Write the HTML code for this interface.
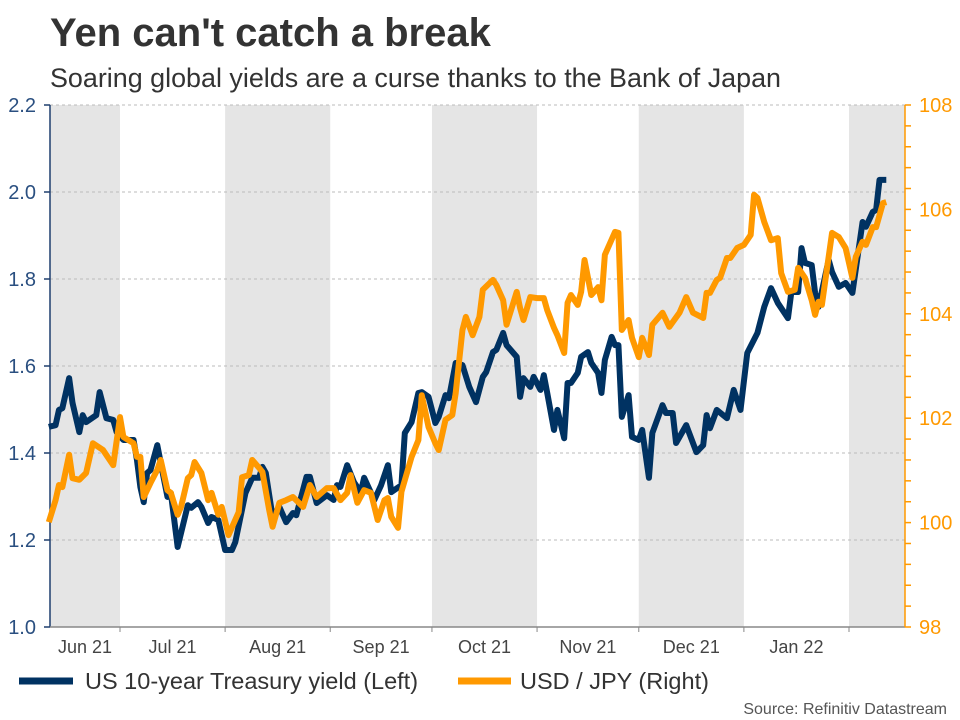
<!DOCTYPE html>
<html><head><meta charset="utf-8">
<style>
body{margin:0;background:#fff;width:960px;height:720px;overflow:hidden;font-family:"Liberation Sans",Arial,sans-serif}
svg{display:block}
</style></head>
<body>
<svg id="chart" width="960" height="720" xmlns="http://www.w3.org/2000/svg">
<text x="50" y="46" font-size="40" font-weight="bold" fill="#333">Yen can't catch a break</text>
<text x="50" y="87" font-size="26.9" fill="#333">Soaring global yields are a curse thanks to the Bank of Japan</text>
<g id="bands"></g>
<g id="grid"></g>
<g id="axes"></g>
<g id="series"></g>
<g>
<line x1="19" y1="681" x2="73" y2="681" stroke="#003262" stroke-width="7"/>
<text x="85" y="689" font-size="23.5" fill="#333">US 10-year Treasury yield (Left)</text>
<line x1="458" y1="681" x2="511" y2="681" stroke="#ff9900" stroke-width="7"/>
<text x="520" y="689" font-size="23.5" fill="#333">USD / JPY (Right)</text>
</g>
<text x="947" y="714" font-size="16" fill="#555" text-anchor="end">Source: Refinitiv Datastream</text>
</svg>
<script>
// days since 1 Jun 2021
const monthLabels=["Jun 21","Jul 21","Aug 21","Sep 21","Oct 21","Nov 21","Dec 21","Jan 22"];
const monthStarts=[0,30,61,92,122,153,183,214,245];
const leftTicks=[1.0,1.2,1.4,1.6,1.8,2.0,2.2];
const rightTicks=[98,100,102,104,106,108];
const usDays=[9,11,12,13,15,16,18,19,20,23,24,26,28,29,31,34,35,36,37,38,39,41,43,44,45,47,48,50,51,53,54,56,57,59,61,63,64,67,69,71,72,73,75,77,79,81,82,85,86,88,91,93,94,95,97,99,101,102,103,105,107,109,110,113,114,116,118,119,121,123,124,126,127,129,131,133,135,137,138,140,141,143,144,147,148,149,151,152,154,155,156,158,159,161,162,163,165,166,168,169,171,172,173,175,176,177,178,180,181,183,184,186,187,190,191,193,194,197,200,202,203,204,206,209,211,213,215,218,220,222,224,227,228,230,231,232,234,235,236,239,240,242,244,246,249,250,252,253,254,256];
const usVals=[1.46,1.464,1.499,1.503,1.572,1.515,1.448,1.487,1.471,1.487,1.54,1.48,1.476,1.448,1.43,1.43,1.384,1.322,1.287,1.354,1.361,1.418,1.338,1.299,1.308,1.184,1.216,1.28,1.274,1.287,1.276,1.239,1.253,1.246,1.177,1.177,1.195,1.308,1.343,1.343,1.368,1.354,1.253,1.276,1.241,1.262,1.257,1.345,1.345,1.285,1.303,1.292,1.326,1.322,1.372,1.333,1.31,1.343,1.326,1.292,1.326,1.372,1.31,1.326,1.446,1.471,1.538,1.54,1.529,1.469,1.483,1.533,1.526,1.607,1.602,1.552,1.517,1.575,1.586,1.632,1.637,1.676,1.648,1.621,1.529,1.572,1.552,1.575,1.545,1.579,1.538,1.453,1.499,1.434,1.561,1.561,1.584,1.621,1.632,1.607,1.584,1.538,1.614,1.667,1.648,1.648,1.483,1.533,1.437,1.43,1.453,1.343,1.446,1.51,1.492,1.492,1.423,1.464,1.402,1.418,1.487,1.457,1.499,1.48,1.545,1.499,1.63,1.676,1.736,1.779,1.745,1.71,1.77,1.77,1.871,1.837,1.832,1.768,1.736,1.844,1.816,1.782,1.791,1.768,1.931,1.92,1.954,1.959,2.028,2.028];
const jpyDays=[9,11,12,13,15,16,18,20,22,25,28,30,31,34,35,36,37,39,41,42,44,45,47,48,50,51,52,54,56,57,59,60,62,65,66,68,69,71,72,74,75,77,79,81,84,86,88,91,93,95,97,98,100,102,104,106,108,109,110,112,113,116,118,119,121,123,124,126,128,129,131,132,134,136,137,140,141,143,144,147,148,149,151,153,155,156,158,159,161,162,163,165,166,167,169,171,172,173,176,177,178,180,181,183,184,186,187,190,192,195,197,199,202,203,204,206,207,209,210,212,214,216,217,218,220,222,224,225,227,229,230,232,234,235,236,237,240,242,244,246,247,249,250,252,253,255,256];
const jpyVals=[100.01,100.43,100.72,100.68,101.3,100.85,100.82,100.95,101.52,101.39,101.1,102.02,101.64,101.52,101.26,101.26,100.49,100.76,101.01,101.2,100.62,100.57,100.15,100.3,100.85,100.91,101.16,100.95,100.43,100.57,100.15,100.3,99.76,100.2,100.87,100.91,101.2,101.05,100.97,100.24,99.92,100.38,100.43,100.49,100.3,100.72,100.49,100.66,100.66,100.43,100.57,100.91,100.38,100.62,100.57,100.05,100.43,100.47,100.11,99.9,100.59,101.26,101.58,102.44,101.83,101.52,101.39,101.97,102.06,102.48,103.69,103.94,103.59,103.94,104.46,104.65,104.55,104.26,103.79,104.42,104.11,103.88,104.32,104.3,104.3,104.07,103.73,103.59,103.25,104.21,104.36,104.17,104.42,105.03,104.36,104.51,104.26,105.13,105.57,105.55,103.69,103.88,103.54,103.17,103.54,103.21,103.79,104.02,103.75,104.02,104.32,104.02,103.92,104.4,104.4,104.65,104.69,105.07,105.07,105.26,105.32,105.51,106.28,106.22,105.76,105.41,105.45,104.78,104.42,104.46,104.88,104.69,104.26,103.98,104.23,104.17,105.55,105.47,105.26,104.69,105.09,105.38,105.32,105.66,105.66,106.12,106.14];

const NS="http://www.w3.org/2000/svg";
const L=50,R=905,T=105,B=627;
const xOf=d=>120+(d-30)*(729/215);
const yL=v=>B-(v-1.0)/1.2*(B-T);
const yR=v=>B-(v-98)/10*(B-T);
function mk(tag,attrs,parent){const e=document.createElementNS(NS,tag);for(const k in attrs)e.setAttribute(k,attrs[k]);parent.appendChild(e);return e;}
const bands=document.getElementById('bands'),grid=document.getElementById('grid'),axes=document.getElementById('axes'),series=document.getElementById('series');

for(let i=0;i<monthStarts.length;i+=2){
  const x0=Math.max(L,xOf(monthStarts[i])),x1=i+1<monthStarts.length?Math.min(R,xOf(monthStarts[i+1])):R;
  const r=mk('rect',{x:x0,y:T,width:x1-x0,height:B-T,fill:'#e5e5e5'},bands);
  
  
}
leftTicks.forEach(v=>{
  if(v>1.0){const g=mk('line',{x1:L,x2:R,y1:yL(v),y2:yL(v),stroke:'#bbb','stroke-dasharray':'3,3','stroke-width':1},grid);
  
  }
  mk('line',{x1:L-6,x2:L,y1:yL(v),y2:yL(v),stroke:'#1f3f6e','stroke-width':1.5},axes);
  const t=mk('text',{x:L-14,y:yL(v)+7,'text-anchor':'end','font-size':20,fill:'#2a4f80'},axes);
  t.textContent=v.toFixed(1);
  
  
});
const la=mk('line',{x1:L,x2:L,y1:T,y2:B,stroke:'#1f3f6e','stroke-width':1.5},axes);


const ba=mk('line',{x1:L,x2:R,y1:B,y2:B,stroke:'#888','stroke-width':1.5},axes);


for(let v=98;v<=108.001;v+=0.4){mk('line',{x1:R,x2:R+6,y1:yR(v),y2:yR(v),stroke:'#ff9900','stroke-width':1.5},axes);}
rightTicks.forEach(v=>{
  const t=mk('text',{x:R+14,y:yR(v)+7,'font-size':20,fill:'#ff9900'},axes);
  t.textContent=v;
  
  
});
const ra=mk('line',{x1:R,x2:R,y1:T,y2:B,stroke:'#ff9900','stroke-width':1.5},axes);


for(let i=1;i<monthStarts.length;i++){mk('line',{x1:xOf(monthStarts[i]),x2:xOf(monthStarts[i]),y1:B,y2:B+5,stroke:'#888','stroke-width':1},axes);}
monthLabels.forEach((m,i)=>{
  const a=Math.max(L,xOf(monthStarts[i])),b=Math.min(R,xOf(monthStarts[i+1]));
  const t=mk('text',{x:(a+b)/2,y:B+26,'text-anchor':'middle','font-size':18,fill:'#444'},axes);
  t.textContent=m;
  
  
});
const usPath=mk('polyline',{points:usDays.map((d,i)=>xOf(d)+','+yL(usVals[i])).join(' '),fill:'none',stroke:'#003262','stroke-width':6,'stroke-linejoin':'round'},series);


const jpPath=mk('polyline',{points:jpyDays.map((d,i)=>xOf(d)+','+yR(jpyVals[i])).join(' '),fill:'none',stroke:'#ff9900','stroke-width':6,'stroke-linejoin':'round'},series);


</script>
</body></html>
